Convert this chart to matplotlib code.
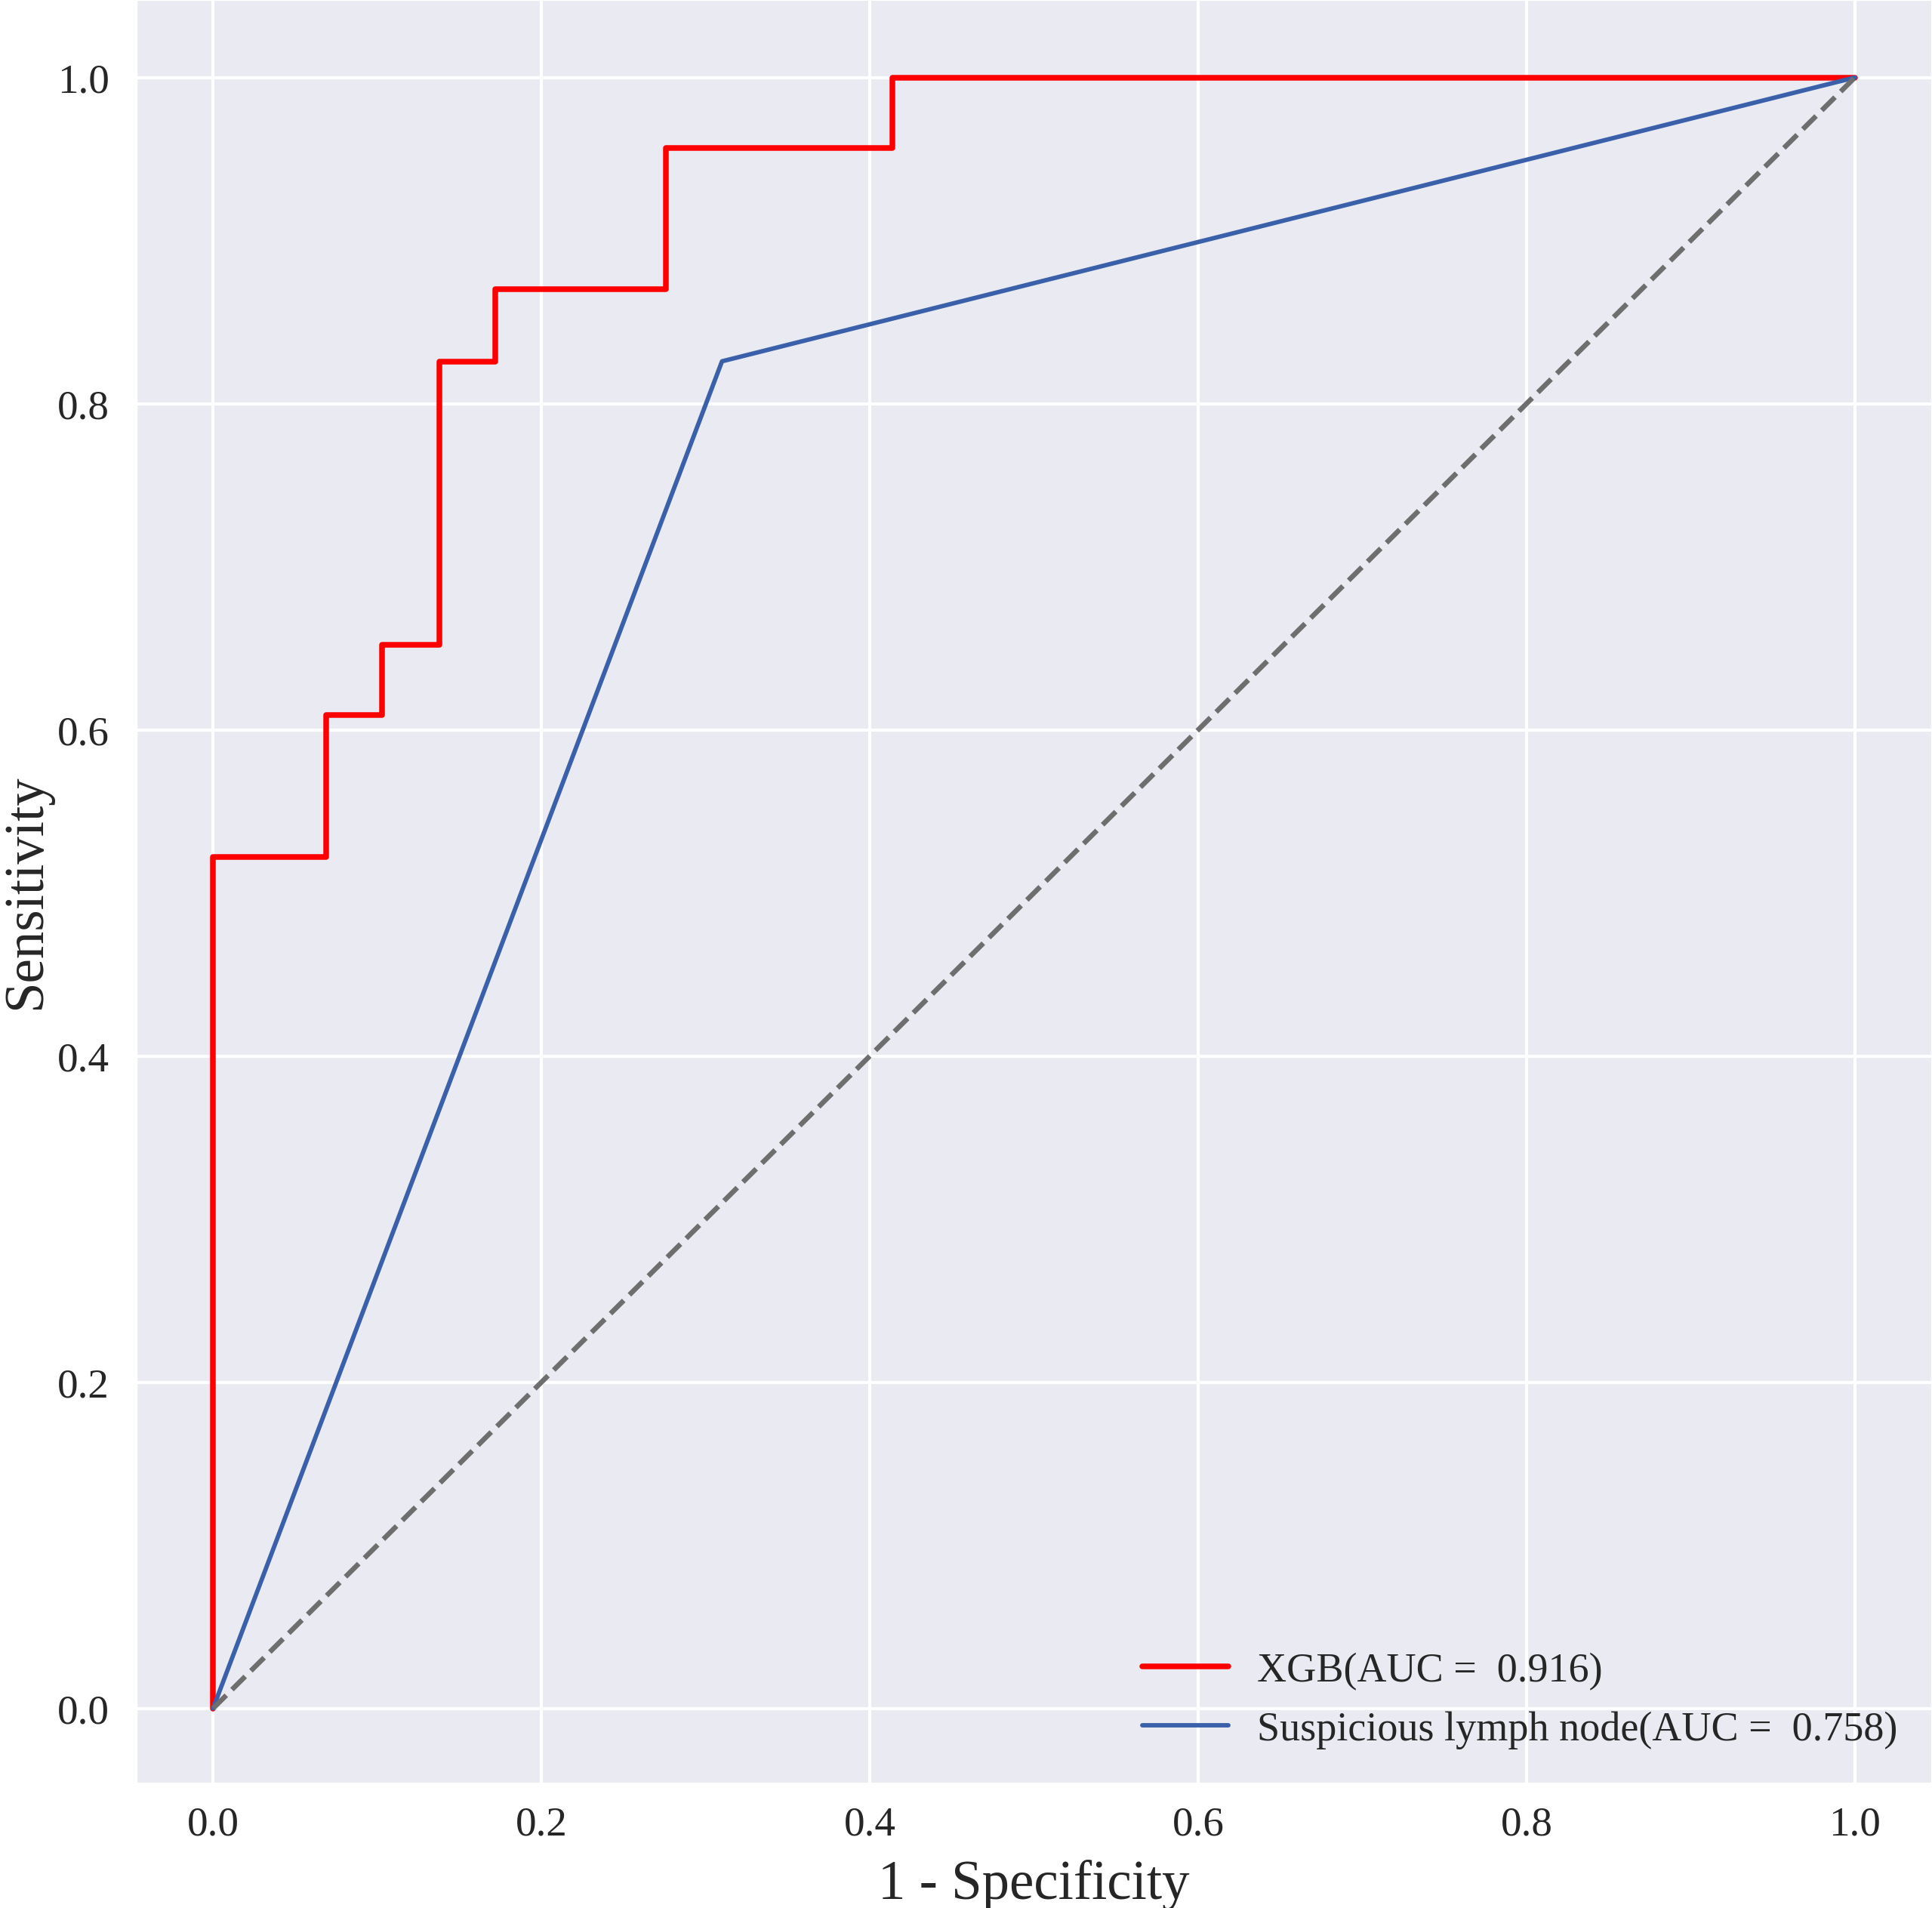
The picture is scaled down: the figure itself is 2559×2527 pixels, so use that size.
import numpy as np
import matplotlib
matplotlib.use('Agg')
import matplotlib.pyplot as plt
import seaborn as sns

# ROC points
xgb_fpr = [0.0, 0.0, 0.069, 0.069, 0.103, 0.103, 0.138, 0.138, 0.172, 0.172, 0.276, 0.276, 0.414, 0.414, 1.0]
xgb_tpr = [0.0, 0.522, 0.522, 0.609, 0.609, 0.652, 0.652, 0.826, 0.826, 0.870, 0.870, 0.957, 0.957, 1.0, 1.0]
lymph_fpr = [0.0, 0.310, 1.0]
lymph_tpr = [0.0, 0.826, 1.0]
xgb_auc = 0.916
lymph_auc = 0.758
ticks = [0.0, 0.2, 0.4, 0.6, 0.8, 1.0]

sns.set_style('darkgrid')
plt.rcParams['font.family'] = ['Liberation Serif', 'DejaVu Serif']

W, H = 2559, 2528
fig = plt.figure(figsize=(W/300, H/300), dpi=300)
ax = fig.add_axes([180/W, 165/H, 1 - 180/W, 1 - 165/H])

ax.plot(xgb_fpr, xgb_tpr, color='#ff0000', lw=1.8,
        label='XGB(AUC =  %0.3f)' % xgb_auc)
ax.plot(lymph_fpr, lymph_tpr, color='#3a60aa', lw=1.4,
        label='Suspicious lymph node(AUC =  %0.3f)' % lymph_auc)
ax.plot([0, 1], [0, 1], '--', color='#6e6e6e', lw=1.6)

ax.set_xlim(-0.047, 1.047)
ax.set_ylim(-0.046, 1.048)
ax.set_xticks(ticks)
ax.set_yticks(ticks)
ax.grid(color='white', lw=1.0)
ax.tick_params(axis='x', labelsize=13.2, pad=7, length=0)
ax.tick_params(axis='y', labelsize=13.2, pad=8.5, length=0)
ax.set_xlabel('1 - Specificity', fontsize=17.5, labelpad=5)
ax.set_ylabel('Sensitivity', fontsize=17.5, labelpad=1.5)

ax.legend(loc='lower right', frameon=False, fontsize=13,
          handlelength=2.1, handletextpad=0.7, labelspacing=0.5,
          borderaxespad=0.45, borderpad=0.4)

fig.savefig('out.png', dpi=300)
